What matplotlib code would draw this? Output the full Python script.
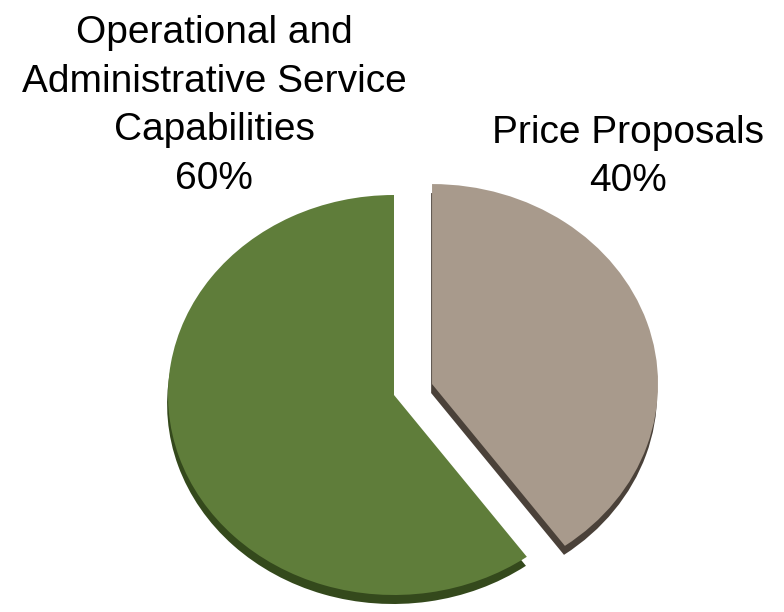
import matplotlib.pyplot as plt

# datos del grafico
categorias = ['Price Proposals', 'Operational and\nAdministrative Service\nCapabilities']
porcentajes = [40, 60]
colores = ['#a89a8c', '#5f7d3a']
colores_sombra = ['#4a4139', '#34491c']
separacion = [0.177, 0]

fig = plt.figure(figsize=(7.84, 6.12), dpi=100)
ax = fig.add_axes([0, 0, 1, 1])

# sombra (efecto 3D) y luego el pie principal
ax.pie(porcentajes, colors=colores_sombra, explode=separacion, startangle=90,
       counterclock=False, center=(-0.004, -0.045), wedgeprops=dict(linewidth=0))
ax.pie(porcentajes, colors=colores, explode=separacion, startangle=90,
       counterclock=False, wedgeprops=dict(linewidth=0))

# ejes en "pixeles" para tener el pie un poco achatado
ax.set_aspect('auto')
ax.set_xlim(-394 / 226, (784 - 394) / 226)
ax.set_ylim((395 - 612) / 200, 395 / 200)
ax.axis('off')

# etiquetas
pos_etiquetas = [(628, 157), (214, 106)]
for cat, p, (x, y) in zip(categorias, porcentajes, pos_etiquetas):
    fig.text(x / 784, 1 - y / 612, '%s\n%d%%' % (cat, p), ha='center', va='center',
             fontsize=28, family='Liberation Sans', linespacing=1.46, color='black')

plt.savefig('out.png', dpi=100)
